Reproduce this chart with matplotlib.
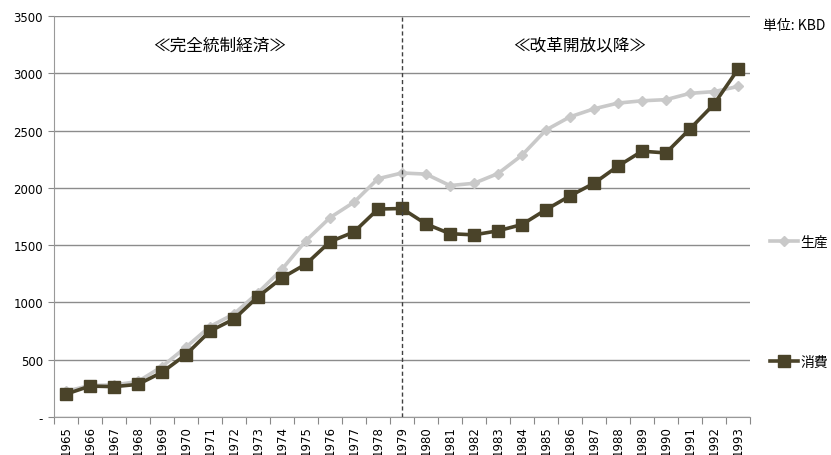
import numpy as np
import matplotlib.pyplot as plt
from matplotlib.ticker import FixedLocator

plt.rcParams['font.family'] = ['Noto Sans CJK JP', 'DejaVu Sans']

# 年次データ（単位: KBD）
years = list(range(1965, 1994))
production = [225, 275, 280, 310, 440, 610, 790, 900, 1085, 1290,
              1540, 1740, 1875, 2080, 2130, 2120, 2020, 2040, 2125, 2285,
              2505, 2620, 2690, 2740, 2760, 2770, 2825, 2840, 2885]
consumption = [200, 270, 265, 285, 390, 545, 750, 855, 1050, 1215,
               1335, 1530, 1615, 1815, 1820, 1685, 1600, 1590, 1625, 1680,
               1810, 1930, 2040, 2190, 2320, 2305, 2515, 2730, 3035]
y_ticks = [0, 500, 1000, 1500, 2000, 2500, 3000, 3500]
y_labels = ['-', '500', '1000', '1500', '2000', '2500', '3000', '3500']
split_year = 1979

fig = plt.figure(figsize=(8.31, 4.56), dpi=100)
ax = fig.add_axes([0.065, 0.0833, 0.8375, 0.8794])

x = np.arange(len(years))
ax.plot(x, production, color='#c9c9c9', lw=2.6, marker='D', ms=5,
        mec='#c9c9c9', mfc='#c9c9c9', label='生産', zorder=3)
ax.plot(x, consumption, color='#4a4329', lw=2.6, marker='s', ms=8,
        mec='#4a4329', mfc='#4a4329', label='消費', zorder=4)

# 改革開放の区切り線
ax.axvline(years.index(split_year), color='#404040', lw=1, ls=(0, (3, 2)), zorder=5)

ax.set_xlim(-0.5, len(years) - 0.5)
ax.set_ylim(0, 3500)
ax.set_yticks(y_ticks)
ax.set_yticklabels(y_labels, fontsize=8.5, family='DejaVu Sans')
ax.xaxis.set_major_locator(FixedLocator(np.arange(-0.5, len(years), 1.0)))
ax.xaxis.set_minor_locator(FixedLocator(x))
ax.set_xticklabels([])
ax.set_xticklabels([str(y) for y in years], minor=True, rotation=90,
                   fontsize=8.5, family='DejaVu Sans')
ax.tick_params(axis='x', which='major', length=5, color='#888888')
ax.tick_params(axis='x', which='minor', length=0, pad=6)
ax.tick_params(axis='y', length=4, color='#888888', pad=4)

ax.grid(axis='y', color='#8c8c8c', lw=1)
ax.set_axisbelow(True)
for side in ['top', 'right']:
    ax.spines[side].set_visible(False)
for side in ['left', 'bottom']:
    ax.spines[side].set_color('#999999')

ax.text(6.4, 3245, '≪完全統制経済≫', fontsize=12, ha='center', va='center')
ax.text(21.4, 3245, '≪改革開放以降≫', fontsize=12, ha='center', va='center')
fig.text(763 / 831, 1 - 26 / 456, '単位: KBD', fontsize=10, va='center')

ax.legend(loc='upper left', bbox_to_anchor=(770 / 831, 1 - 236 / 456),
          bbox_transform=fig.transFigure, frameon=False, fontsize=10,
          borderpad=0, borderaxespad=0, handlelength=2.0, handletextpad=0.2,
          labelspacing=7.6)

fig.savefig('out.png', dpi=100)
